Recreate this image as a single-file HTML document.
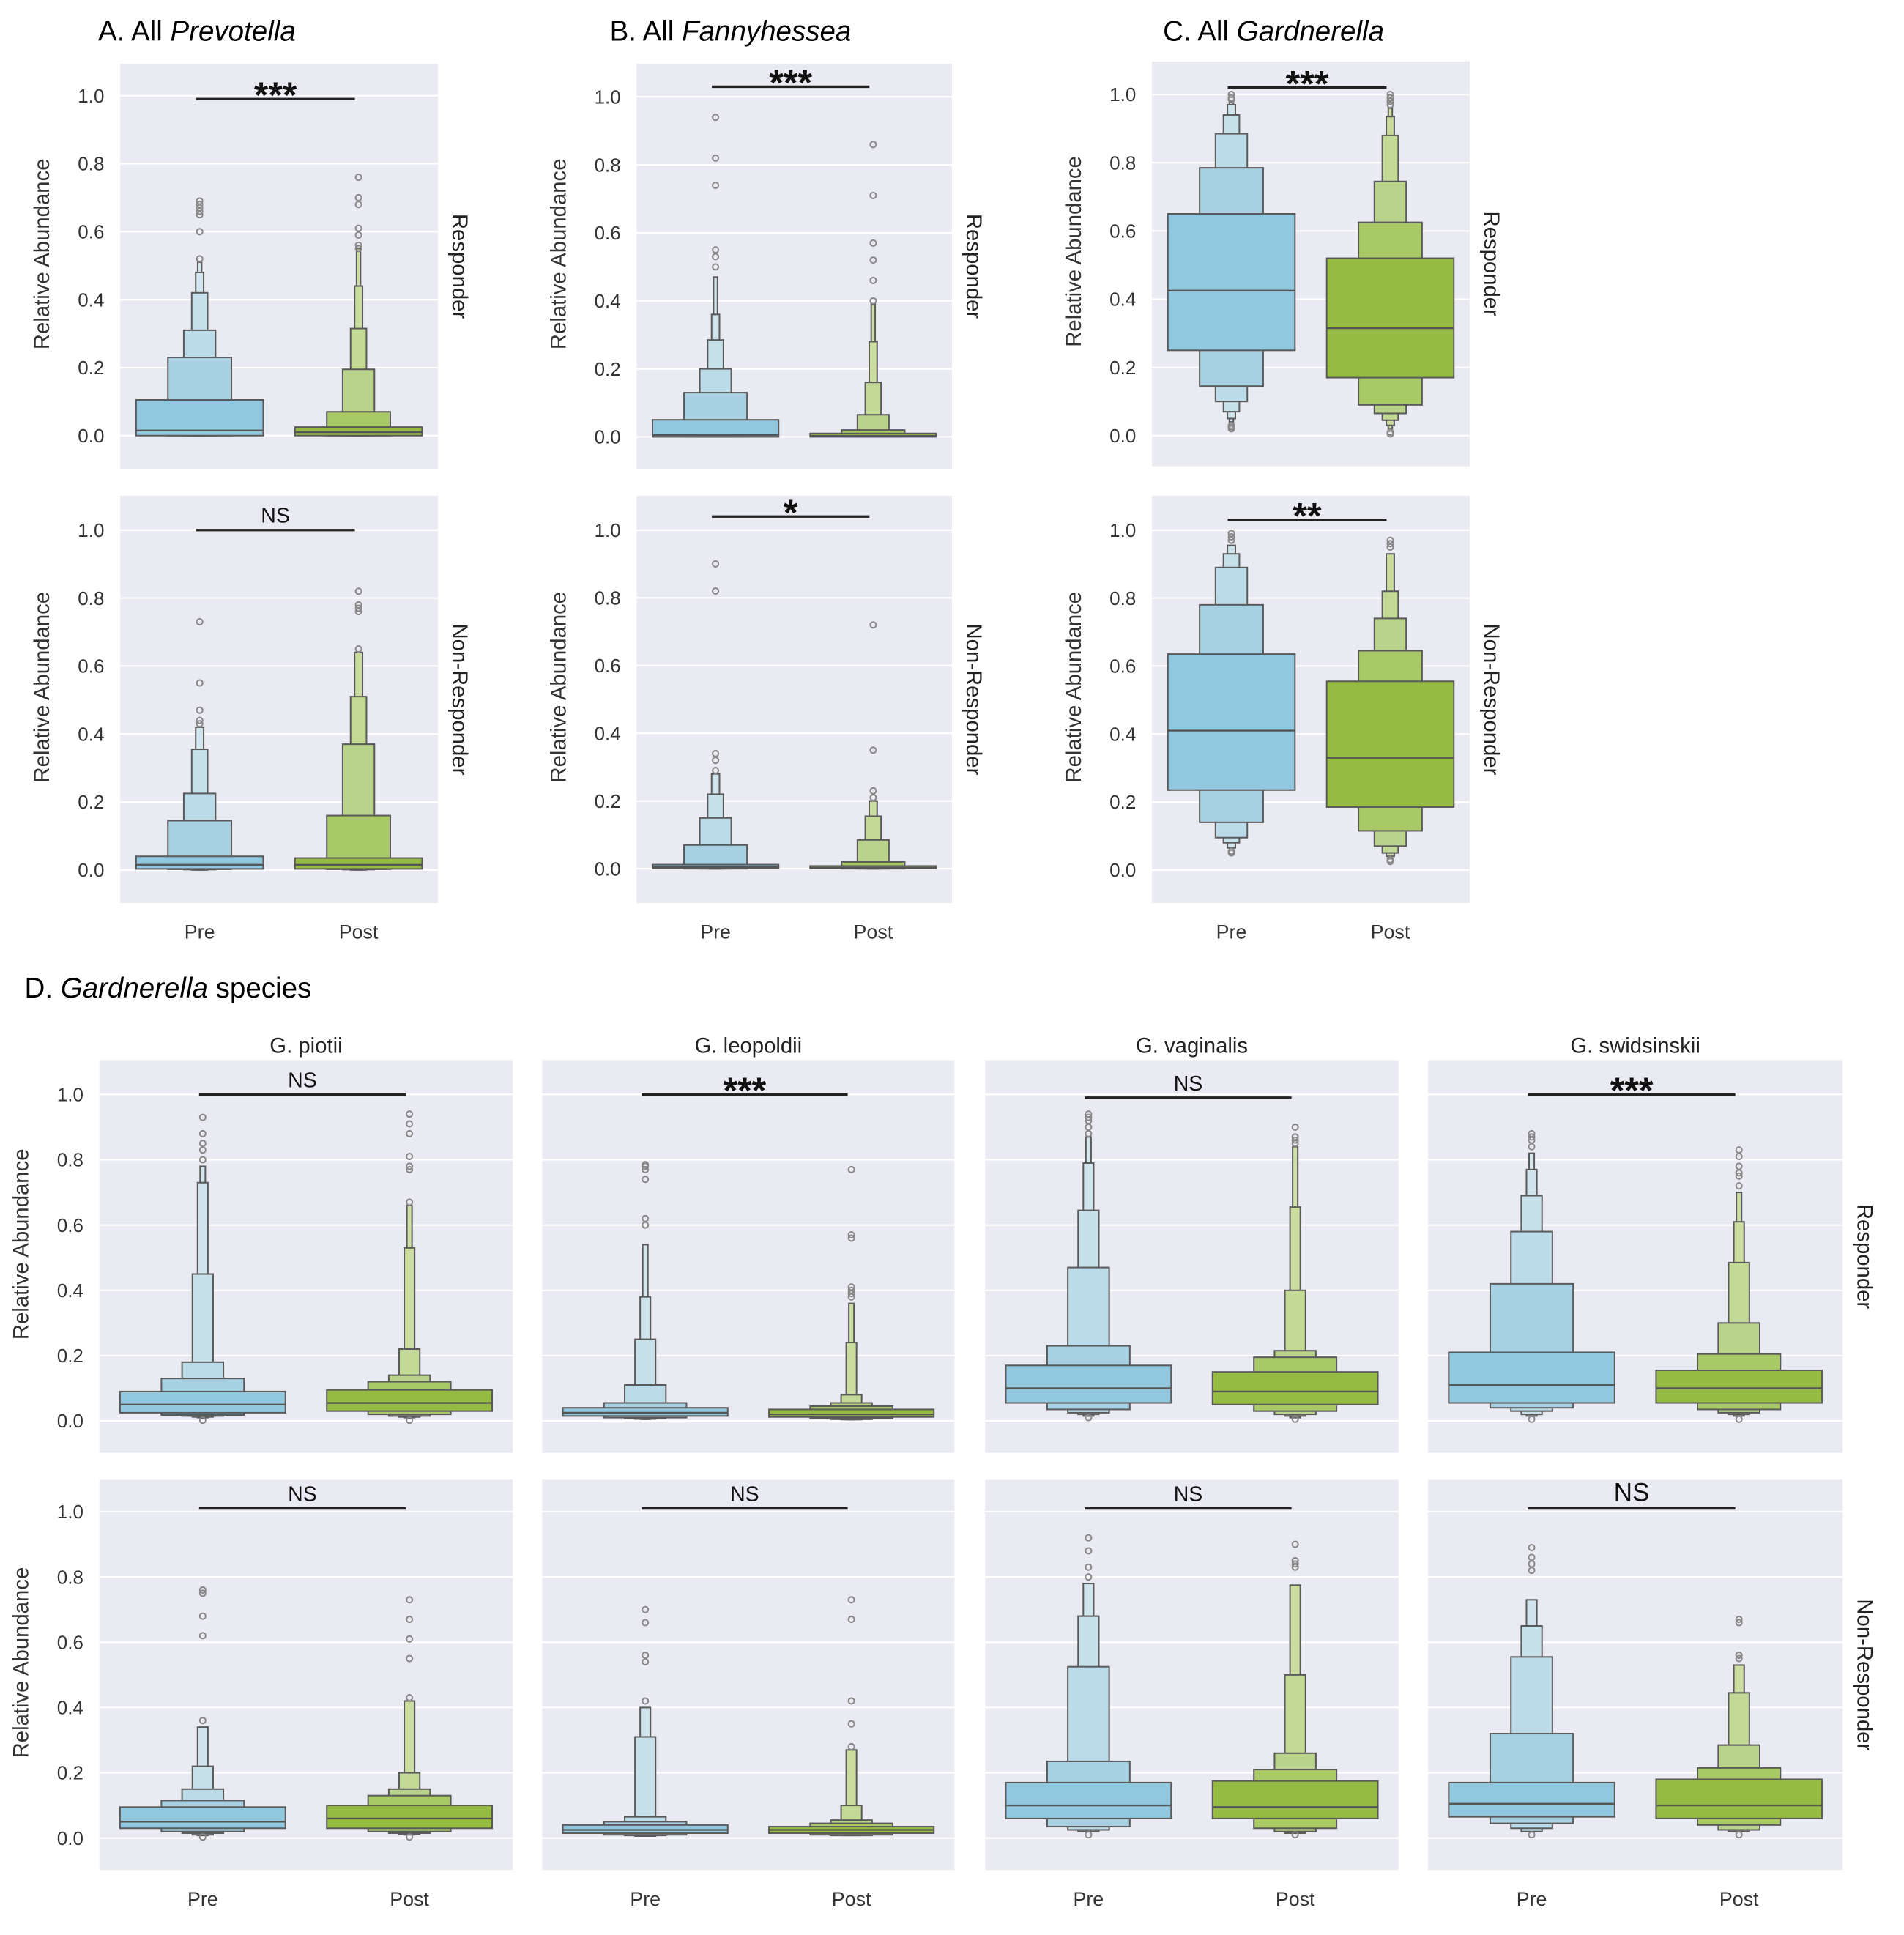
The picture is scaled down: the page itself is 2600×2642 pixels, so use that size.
<!DOCTYPE html>
<html><head><meta charset="utf-8">
<style>
html,body{margin:0;padding:0;background:#fff;}
svg{display:block;}
text{font-family:"Liberation Sans","DejaVu Sans",sans-serif;}
</style></head>
<body>
<svg id="fig" xmlns="http://www.w3.org/2000/svg" width="2600" height="2642" viewBox="0 0 1552 1577" preserveAspectRatio="none"></svg>
<script>
// ---- data (per series: panelIndex*2 + (0=Pre,1=Post)) ----
const groups = ["Pre","Post"];
const yTicks = [0.0,0.2,0.4,0.6,0.8,1.0];
const yTickLabels = ["0.0","0.2","0.4","0.6","0.8","1.0"];
const sigLabels = ["***","NS","***","*","***","**","NS","NS","***","NS","NS","NS","***","NS"];
const sigLevels = [0.99,1.0,1.03,1.04,1.02,1.03,1.0,1.01,1.0,1.01,0.99,1.01,1.0,1.01];
const medians = [
 0.015,0.01, 0.015,0.015, 0.005,0.003, 0.005,0.003, 0.425,0.315, 0.41,0.33,
 0.05,0.055, 0.05,0.06, 0.025,0.02, 0.025,0.025, 0.1,0.09, 0.1,0.095, 0.11,0.1, 0.105,0.1];
const upperLevels = [
 [0.105,0.23,0.31,0.42,0.48,0.51],[0.025,0.07,0.195,0.315,0.44,0.55],
 [0.04,0.145,0.225,0.355,0.42],[0.035,0.16,0.37,0.51,0.64],
 [0.05,0.13,0.2,0.285,0.36,0.47],[0.01,0.02,0.065,0.16,0.28,0.39],
 [0.012,0.07,0.15,0.22,0.28],[0.008,0.02,0.085,0.155,0.2],
 [0.65,0.785,0.885,0.94,0.97,0.98],[0.52,0.625,0.745,0.88,0.935,0.96],
 [0.635,0.78,0.89,0.93,0.955],[0.555,0.645,0.74,0.82,0.93],
 [0.09,0.13,0.18,0.45,0.73,0.78],[0.095,0.12,0.14,0.22,0.53,0.66],
 [0.095,0.115,0.15,0.22,0.34],[0.1,0.13,0.15,0.2,0.42],
 [0.04,0.055,0.11,0.25,0.38,0.54],[0.035,0.045,0.055,0.08,0.24,0.36],
 [0.04,0.05,0.065,0.31,0.4],[0.035,0.045,0.055,0.1,0.27],
 [0.17,0.23,0.47,0.645,0.79,0.87],[0.15,0.195,0.215,0.4,0.655,0.84],
 [0.17,0.235,0.525,0.68,0.78],[0.175,0.21,0.26,0.5,0.775],
 [0.21,0.42,0.58,0.69,0.77,0.82],[0.155,0.205,0.3,0.485,0.61,0.7],
 [0.17,0.32,0.555,0.65,0.73],[0.18,0.215,0.285,0.445,0.53]];
const lowerLevels = [
 [0,0,0,0,0,0],[0,0,0,0,0,0],[0.003,0.002,0.001,0,0],[0.003,0.002,0.001,0,0],
 [0,0,0,0,0,0],[0,0,0,0,0,0],[0.001,0,0,0,0],[0.001,0,0,0,0],
 [0.25,0.145,0.1,0.07,0.05,0.04],[0.17,0.09,0.065,0.045,0.03,0.02],
 [0.235,0.14,0.095,0.08,0.065],[0.185,0.115,0.07,0.05,0.04],
 [0.025,0.018,0.015,0.012,0.01,0.008],[0.03,0.02,0.015,0.012,0.01,0.008],
 [0.03,0.02,0.015,0.01,0.008],[0.03,0.02,0.015,0.012,0.01],
 [0.015,0.01,0.008,0.006,0.005,0.005],[0.012,0.008,0.005,0.004,0.004,0.004],
 [0.015,0.01,0.008,0.006,0.006],[0.015,0.01,0.008,0.008,0.008],
 [0.055,0.035,0.025,0.02,0.015,0.015],[0.05,0.03,0.02,0.015,0.01,0.01],
 [0.06,0.035,0.025,0.02,0.02],[0.06,0.03,0.02,0.015,0.015],
 [0.055,0.04,0.03,0.02,0.015,0.015],[0.055,0.035,0.025,0.02,0.015,0.015],
 [0.065,0.045,0.03,0.02,0.02],[0.06,0.04,0.025,0.02,0.02]];
const outliers = [
 [0.52,0.6,0.65,0.66,0.67,0.68,0.69],[0.55,0.56,0.59,0.61,0.68,0.7,0.76],
 [0.43,0.44,0.47,0.55,0.73],[0.65,0.76,0.77,0.78,0.82],
 [0.5,0.53,0.55,0.74,0.82,0.94],[0.4,0.46,0.52,0.57,0.71,0.86],
 [0.29,0.32,0.34,0.82,0.9],[0.21,0.23,0.35,0.72],
 [0.985,0.99,1.0,0.03,0.025,0.02],[0.97,0.98,0.99,1.0,0.01,0.005],
 [0.97,0.98,0.99,0.055,0.05],[0.95,0.96,0.97,0.03,0.025],
 [0.8,0.83,0.85,0.88,0.93,0.002],[0.67,0.77,0.78,0.81,0.88,0.91,0.94,0.002],
 [0.36,0.62,0.68,0.75,0.76,0.003],[0.43,0.55,0.61,0.67,0.73,0.003],
 [0.6,0.62,0.74,0.77,0.78,0.785],[0.38,0.39,0.4,0.41,0.56,0.57,0.77],
 [0.42,0.54,0.56,0.66,0.7],[0.28,0.35,0.42,0.67,0.73],
 [0.88,0.9,0.92,0.93,0.94,0.01],[0.85,0.86,0.87,0.9,0.005],
 [0.8,0.83,0.88,0.92,0.01],[0.83,0.84,0.85,0.9,0.01],
 [0.84,0.86,0.87,0.88,0.005],[0.72,0.75,0.76,0.78,0.81,0.83,0.005],
 [0.82,0.84,0.86,0.89,0.01],[0.55,0.56,0.66,0.67,0.01]];

// ---- layout ----
const panels = [
 {x:98,w:259,y:52,h:330,y1:78,y0:355},{x:98,w:259,y:404,h:332,y1:432,y0:709},
 {x:519,w:257,y:52,h:330,y1:79,y0:356},{x:519,w:257,y:404,h:332,y1:432,y0:708},
 {x:939,w:259,y:50,h:330,y1:77,y0:355},{x:939,w:259,y:404,h:332,y1:432,y0:709},
 {x:81,w:337,y:864,h:320,y1:892,y0:1158},{x:81,w:337,y:1206,h:318,y1:1232,y0:1498},
 {x:442,w:336,y:864,h:320,y1:892,y0:1158},{x:442,w:336,y:1206,h:318,y1:1232,y0:1498},
 {x:803,w:337,y:864,h:320,y1:892,y0:1158},{x:803,w:337,y:1206,h:318,y1:1232,y0:1498},
 {x:1164,w:338,y:864,h:320,y1:892,y0:1158},{x:1164,w:338,y:1206,h:318,y1:1232,y0:1498}];
const blues=["#92C8DF","#A7D0E2","#BBDBE8","#C7E1EB","#CFE4EC","#D4E6EC"];
const greens=["#96BB42","#A9C966","#B9D38A","#C3D996","#CADD9F","#CEDFA6"];
const NS="http://www.w3.org/2000/svg";
const svg=document.getElementById('fig');
function el(tag,attrs,parent){const e=document.createElementNS(NS,tag);for(const k in attrs)e.setAttribute(k,attrs[k]);(parent||svg).appendChild(e);return e;}
function txt(s,attrs,parent){const t=el('text',attrs,parent);t.textContent=s;return t;}

panels.forEach((p,pi)=>{
  const g=el('g',{});
  
  
  const bg=el('rect',{x:p.x,y:p.y,width:p.w,height:p.h,fill:'#EAEAF2'},g);
  
  
  const ys=v=>p.y0-(p.y0-p.y1)*v;
  const showTicks = pi<8;
  yTicks.forEach((t,i)=>{
    const gl=el('line',{x1:p.x,x2:p.x+p.w,y1:ys(t),y2:ys(t),stroke:'#fff','stroke-width':1.3},g);
    
    
    if(showTicks){
      const tl=txt(yTickLabels[i],{x:p.x-13,y:ys(t)+5.5,'text-anchor':'end','font-size':15.5,fill:'#333'},g);
      
      
    }
  });
  const cw=p.w/2;
  groups.forEach((gr,gi)=>{
    const si=pi*2+gi, cx=p.x+cw*(gi+0.5), W=cw*0.8;
    const hi=upperLevels[si], lo=lowerLevels[si], cols=gi?greens:blues;
    for(let k=hi.length-1;k>=0;k--){
      const w=W*Math.pow(0.5,k), top=ys(hi[k]), bot=ys(lo[k]!==undefined?lo[k]:0);
      const r=el('rect',{x:cx-w/2,y:top,width:w,height:Math.max(bot-top,0.5),fill:cols[k],stroke:'#5a5a5a','stroke-width':1.2},g);
      
      
    }
    const m=el('line',{x1:cx-W/2,x2:cx+W/2,y1:ys(medians[si]),y2:ys(medians[si]),stroke:'#555','stroke-width':1.4},g);
    
    
    outliers[si].forEach(v=>{
      const c=el('circle',{cx:cx,cy:ys(v),r:2.4,fill:'none',stroke:'#888','stroke-width':1.2},g);
      
      
    });
  });
  const bx1=p.x+cw*0.5-3, bx2=p.x+cw*1.5-3, by=ys(sigLevels[pi]);
  const bl=el('line',{x1:bx1,x2:bx2,y1:by,y2:by,stroke:'#222','stroke-width':2},g);
  
  
  const isNS=sigLabels[pi]==='NS';
  const st=txt(sigLabels[pi],{x:(bx1+bx2)/2,y:isNS?by-6:by+7,'text-anchor':'middle','font-size':isNS?(pi===13?21:17):30,'font-weight':isNS?'normal':'bold',fill:'#111'},g);
  
  
  const showY = pi<8;
  if(showY){
    const ax=p.x-58, ay=p.y+p.h/2-10;
    const yt=txt('Relative Abundance',{x:ax,y:ay,'text-anchor':'middle','font-size':17.5,fill:'#333',transform:`rotate(-90 ${ax} ${ay})`},g);
    
    
  }
  const isTopRight = pi<6 || pi>=12;
  if(isTopRight){
    const label = pi%2===0?'Responder':'Non-Responder';
    const rx=p.x+p.w+12, ry=p.y+p.h/2;
    const rl=txt(label,{x:rx,y:ry,'text-anchor':'middle','font-size':17.5,fill:'#222',transform:`rotate(90 ${rx} ${ry})`},g);
    
    
  }
  if(pi%2===1){
    groups.forEach((gr,gi)=>{
      const xl=txt(gr,{x:p.x+cw*(gi+0.5),y:p.y+p.h+29,'text-anchor':'middle','font-size':16,fill:'#333'},g);
      
      
    });
  }
});

const titles=[["A. All ","Prevotella",80,33],["B. All ","Fannyhessea",497,33],["C. All ","Gardnerella",948,33]];
titles.forEach(t=>{
  const e=el('text',{x:t[2],y:t[3],'font-size':23,fill:'#000'});
  
  
  const a=el('tspan',{},e);a.textContent=t[0];
  const b=el('tspan',{'font-style':'italic'},e);b.textContent=t[1];
});
const d=el('text',{x:20,y:813,'font-size':23,fill:'#000'});


{const a=el('tspan',{},d);a.textContent='D. ';const b=el('tspan',{'font-style':'italic'},d);b.textContent='Gardnerella';const c=el('tspan',{},d);c.textContent=' species';}
const species=["G. piotii","G. leopoldii","G. vaginalis","G. swidsinskii"];
species.forEach((s,i)=>{
  const p=panels[6+i*2];
  const e=txt(s,{x:p.x+p.w/2,y:858,'text-anchor':'middle','font-size':17.5,fill:'#222'});
  
  
});
</script>
</body></html>
